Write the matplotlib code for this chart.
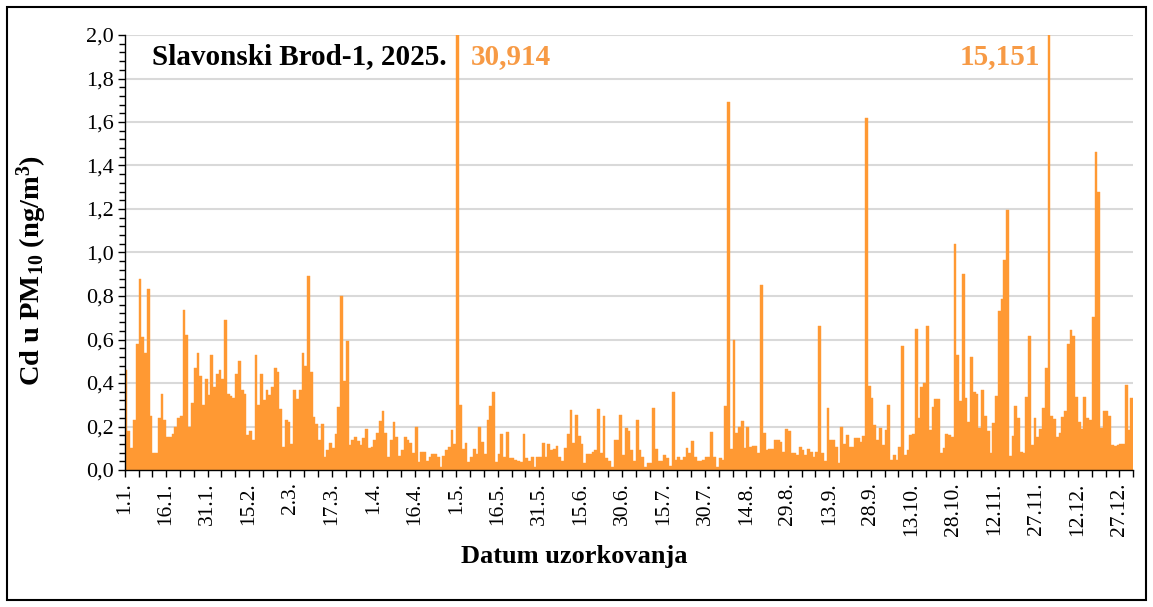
import numpy as np
import matplotlib
matplotlib.use("Agg")
import matplotlib.pyplot as plt
from matplotlib.patches import Rectangle
from matplotlib.ticker import MultipleLocator, FixedLocator, FuncFormatter

# Daily Cd in PM10 (ng/m3), Slavonski Brod-1, 2025
jan = [0.46, 0.18, 0.10, 0.23, 0.58, 0.88, 0.61, 0.54, 0.83, 0.25, 0.08, 0.08, 0.24, 0.35, 0.23, 0.15,
       0.15, 0.165, 0.20, 0.24, 0.25, 0.735, 0.62, 0.20, 0.31, 0.47, 0.54, 0.43, 0.30, 0.42, 0.345]
feb = [0.53, 0.38, 0.44, 0.46, 0.42, 0.69, 0.35, 0.34, 0.33, 0.44, 0.50, 0.37, 0.35, 0.16, 0.18, 0.14,
       0.53, 0.30, 0.44, 0.32, 0.37, 0.345, 0.38, 0.47, 0.45, 0.28, 0.107, 0.23]
mar = [0.22, 0.12, 0.37, 0.325, 0.37, 0.54, 0.48, 0.89, 0.45, 0.245, 0.21, 0.14, 0.21, 0.06, 0.09, 0.125,
       0.10, 0.165, 0.29, 0.80, 0.41, 0.595, 0.115, 0.14, 0.15, 0.135, 0.115, 0.145, 0.19, 0.10, 0.105]
apr = [0.14, 0.17, 0.225, 0.27, 0.17, 0.06, 0.14, 0.22, 0.15, 0.065, 0.09, 0.15, 0.14, 0.125, 0.08, 0.20,
       0.035, 0.085, 0.085, 0.04, 0.06, 0.075, 0.075, 0.06, 0.015, 0.065, 0.09, 0.105, 0.185, 0.12]
may = [30.914, 0.30, 0.095, 0.125, 0.035, 0.06, 0.095, 0.075, 0.20, 0.13, 0.075, 0.23, 0.295, 0.36, 0.035,
       0.075, 0.165, 0.06, 0.175, 0.055, 0.055, 0.045, 0.04, 0.035, 0.165, 0.055, 0.04, 0.06, 0.015, 0.06, 0.06]
jun = [0.125, 0.06, 0.12, 0.09, 0.095, 0.11, 0.06, 0.04, 0.10, 0.165, 0.275, 0.125, 0.255, 0.155, 0.12,
       0.03, 0.075, 0.075, 0.085, 0.09, 0.28, 0.08, 0.25, 0.055, 0.04, 0.015, 0.14, 0.14, 0.255, 0.07]
jul = [0.195, 0.18, 0.09, 0.04, 0.23, 0.09, 0.06, 0.015, 0.03, 0.03, 0.285, 0.095, 0.04, 0.04, 0.07, 0.055,
       0.02, 0.36, 0.045, 0.06, 0.045, 0.06, 0.10, 0.08, 0.135, 0.06, 0.04, 0.04, 0.045, 0.06, 0.06]
aug = [0.175, 0.06, 0.015, 0.055, 0.045, 0.295, 1.69, 0.095, 0.60, 0.17, 0.20, 0.225, 0.10, 0.20, 0.107,
       0.11, 0.11, 0.08, 0.85, 0.17, 0.09, 0.095, 0.095, 0.14, 0.14, 0.13, 0.085, 0.19, 0.18, 0.08, 0.08]
sep = [0.07, 0.105, 0.09, 0.07, 0.095, 0.085, 0.06, 0.085, 0.66, 0.08, 0.043, 0.285, 0.14, 0.14, 0.107,
       0.03, 0.20, 0.12, 0.16, 0.107, 0.107, 0.145, 0.145, 0.13, 0.155, 1.62, 0.385, 0.33, 0.205, 0.14]
oct_ = [0.195, 0.115, 0.185, 0.30, 0.045, 0.07, 0.045, 0.105, 0.57, 0.07, 0.09, 0.16, 0.165, 0.65, 0.24,
        0.38, 0.40, 0.66, 0.185, 0.29, 0.325, 0.325, 0.077, 0.10, 0.165, 0.16, 0.15, 1.04, 0.53, 0.315, 0.90]
nov = [0.33, 0.22, 0.52, 0.36, 0.35, 0.195, 0.37, 0.25, 0.18, 0.08, 0.215, 0.34, 0.73, 0.785, 0.965, 1.195,
       0.065, 0.155, 0.295, 0.24, 0.085, 0.08, 0.335, 0.615, 0.115, 0.24, 0.15, 0.19, 0.285, 0.47]
dec = [15.151, 0.25, 0.235, 0.15, 0.17, 0.245, 0.27, 0.58, 0.645, 0.615, 0.335, 0.22, 0.19, 0.335, 0.24,
       0.23, 0.705, 1.46, 1.28, 0.195, 0.27, 0.27, 0.25, 0.115, 0.11, 0.115, 0.118, 0.12, 0.39, 0.185, 0.33]

tick_labels = ['1.1.', '16.1.', '31.1.', '15.2.', '2.3.', '17.3.', '1.4.', '16.4.', '1.5.', '16.5.',
               '31.5.', '15.6.', '30.6.', '15.7.', '30.7.', '14.8.', '29.8.', '13.9.', '28.9.', '13.10.',
               '28.10.', '12.11.', '27.11.', '12.12.', '27.12.']
peak_labels = ['30,914', '15,151']
title = 'Slavonski Brod-1, 2025.'

values = np.array(jan + feb + mar + apr + may + jun + jul + aug + sep + oct_ + nov + dec)
days = np.arange(len(values))

W, H = 1153, 607
BAR = '#FF9933'
PEAK = '#F79A45'
SERIF = ['Liberation Serif', 'DejaVu Serif']

plt.rcParams['font.family'] = SERIF
plt.rcParams['mathtext.fontset'] = 'custom'
plt.rcParams['mathtext.rm'] = 'Liberation Serif:bold'
plt.rcParams['mathtext.bf'] = 'Liberation Serif:bold'
plt.rcParams['mathtext.default'] = 'rm'

fig = plt.figure(figsize=(W / 100, H / 100), dpi=100)
fig.patch.set_facecolor('white')

def fx(x):
    return x / W

def fy(y):
    return 1 - y / H

left, right, top, bottom = 124.7, 1133.2, 35, 470
ax = fig.add_axes([fx(left), fy(bottom), (right - left) / W, (bottom - top) / H])

ax.bar(days + 0.5, values, width=1.0, color=BAR, edgecolor=BAR, linewidth=0.3, zorder=2)

ax.set_xlim(0, len(values))
ax.set_ylim(0, 2.0)

ax.yaxis.set_major_locator(MultipleLocator(0.2))
ax.yaxis.set_minor_locator(MultipleLocator(0.04))
ax.yaxis.set_major_formatter(FuncFormatter(lambda v, p: f"{v:.1f}".replace('.', ',')))

ax.xaxis.set_major_locator(FixedLocator(np.arange(0, 361, 15)))
ax.xaxis.set_minor_locator(FixedLocator(np.arange(0, 366, 5)))
ax.set_xticklabels(tick_labels, rotation=90, fontsize=15.5)

ax.tick_params(axis='y', which='major', labelsize=16, direction='out', length=5, width=1, pad=3)
ax.tick_params(axis='y', which='minor', direction='out', length=4, width=1)
ax.tick_params(axis='x', which='both', direction='out', length=5, width=1, pad=4)

ax.grid(axis='y', which='major', color='#D9D9D9', linewidth=1.5, zorder=0)
ax.set_axisbelow(True)
for s in ['top', 'right']:
    ax.spines[s].set_visible(False)
for s in ['left', 'bottom']:
    ax.spines[s].set_color('black')
    ax.spines[s].set_linewidth(1.0)
    ax.spines[s].set_zorder(3)

fig.text(fx(152), fy(57), title, ha='left', va='center', fontsize=21, fontweight='bold', color='black')
fig.text(fx(471), fy(57), peak_labels[0], ha='left', va='center', fontsize=21, fontweight='bold', color=PEAK)
fig.text(fx(1040), fy(57), peak_labels[1], ha='right', va='center', fontsize=21, fontweight='bold', color=PEAK)

fig.text(fx(32), fy(270), r'Cd u PM$_{10}$ (ng/m$^{3}$)', rotation=90, ha='center', va='center',
         fontsize=20.5, fontweight='bold')
fig.text(fx(574), fy(556), 'Datum uzorkovanja', ha='center', va='center', fontsize=19, fontweight='bold')

fig.patches.append(Rectangle((fx(7), fy(600)), fx(1146) - fx(7), fy(7) - fy(600),
                             transform=fig.transFigure, fill=False, edgecolor='black', linewidth=1.5))

fig.savefig('out.png', dpi=100, facecolor='white')
